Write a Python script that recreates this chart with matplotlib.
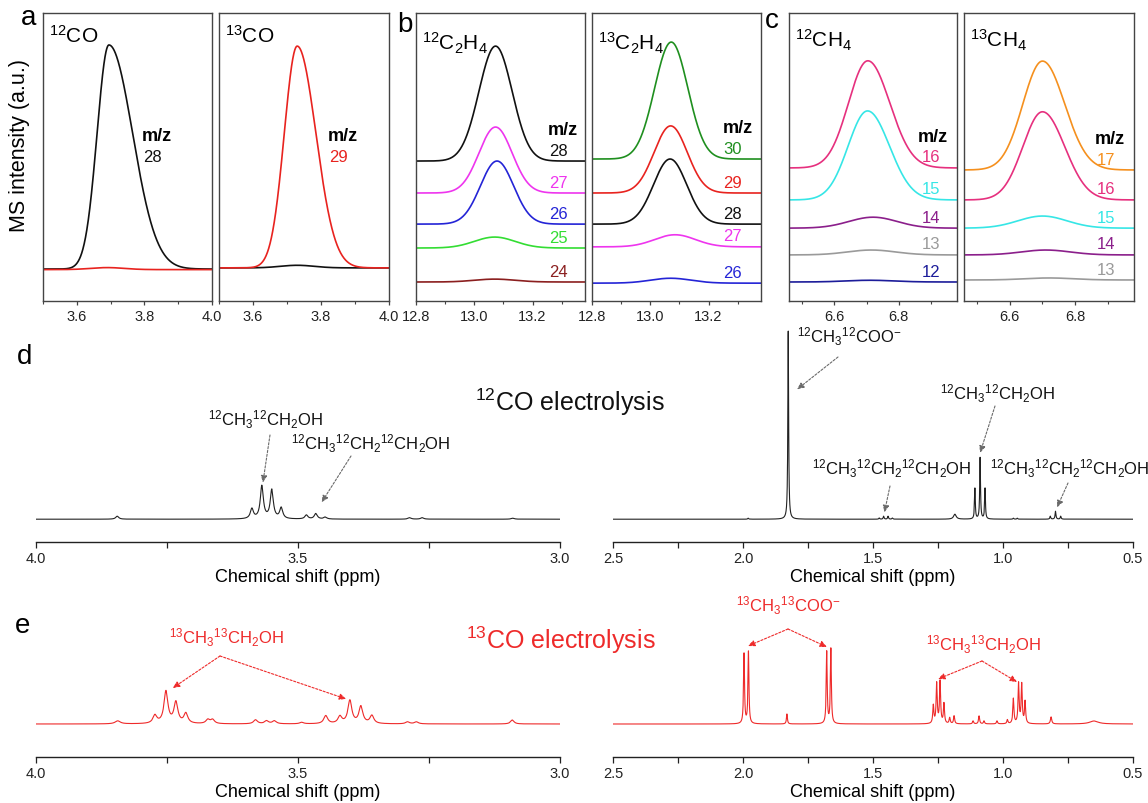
import numpy as np
import matplotlib
matplotlib.use("Agg")
import matplotlib.pyplot as plt
from matplotlib.ticker import FixedLocator, FormatStrFormatter

plt.rcParams["font.family"] = ["Liberation Sans", "DejaVu Sans"]
plt.rcParams["mathtext.fontset"] = "custom"
plt.rcParams["mathtext.rm"] = "Liberation Sans"
plt.rcParams["mathtext.it"] = "Liberation Sans:italic"
plt.rcParams["mathtext.bf"] = "Liberation Sans:bold"
plt.rcParams["mathtext.default"] = "regular"

W, H = 1148, 804

# ---------------- MS traces: retention time (min), normalised intensity ----------------
# a: 12CO / 13CO
CO12_MZ = ["28", "29"]
CO12_COLOR = ["#111111", "#e8231f"]
CO12_CENTER = [3.695, 3.690]
CO12_HEIGHT = [0.778, 0.007]
CO12_BASE = [0.111, 0.109]
CO12_SIGMA = [(0.035, 0.070), (0.05, 0.05)]

CO13_MZ = ["28", "29"]
CO13_COLOR = ["#111111", "#e8231f"]
CO13_CENTER = [3.730, 3.730]
CO13_HEIGHT = [0.009, 0.770]
CO13_BASE = [0.115, 0.115]
CO13_SIGMA = [(0.05, 0.05), (0.038, 0.055)]

# b: 12C2H4 / 13C2H4
ET12_MZ = ["28", "27", "26", "25", "24"]
ET12_COLOR = ["#111111", "#ee35ee", "#2424d6", "#33dd33", "#8b1f1f"]
ET12_CENTER = [13.073, 13.073, 13.078, 13.070, 13.070]
ET12_HEIGHT = [0.399, 0.229, 0.219, 0.038, 0.010]
ET12_BASE = [0.486, 0.375, 0.267, 0.184, 0.066]
ET12_SIGMA = [(0.057, 0.057)] * 3 + [(0.07, 0.07)] * 2

ET13_MZ = ["30", "29", "28", "27", "26"]
ET13_COLOR = ["#1f8f1f", "#e8231f", "#111111", "#ee35ee", "#2424d6"]
ET13_CENTER = [13.072, 13.070, 13.068, 13.085, 13.070]
ET13_HEIGHT = [0.406, 0.233, 0.226, 0.042, 0.017]
ET13_BASE = [0.493, 0.375, 0.267, 0.188, 0.062]
ET13_SIGMA = [(0.057, 0.057)] * 3 + [(0.07, 0.07)] * 2

# c: 12CH4 / 13CH4
ME12_MZ = ["16", "15", "14", "13", "12"]
ME12_COLOR = ["#e6307e", "#36e6e6", "#8b1f8b", "#9a9a9a", "#1c1c9a"]
ME12_CENTER = [6.704, 6.703, 6.720, 6.715, 6.710]
ME12_HEIGHT = [0.372, 0.309, 0.038, 0.017, 0.006]
ME12_BASE = [0.462, 0.351, 0.253, 0.160, 0.066]
ME12_SIGMA = [(0.060, 0.068)] * 2 + [(0.075, 0.075)] * 3

ME13_MZ = ["17", "16", "15", "14", "13"]
ME13_COLOR = ["#f5901e", "#e6307e", "#36e6e6", "#8b1f8b", "#9a9a9a"]
ME13_CENTER = [6.700, 6.700, 6.700, 6.710, 6.720]
ME13_HEIGHT = [0.378, 0.306, 0.042, 0.017, 0.007]
ME13_BASE = [0.455, 0.351, 0.253, 0.160, 0.073]
ME13_SIGMA = [(0.060, 0.068)] * 2 + [(0.075, 0.075)] * 3

# ---------------- 1H NMR peak lists: shift (ppm), height, half width ----------------
D_LEFT_PPM = [3.845, 3.588, 3.569, 3.550, 3.532, 3.484, 3.466, 3.448, 3.287, 3.263, 3.090]
D_LEFT_INT = [3, 10, 33, 29, 11, 4, 5.5, 2, 1.5, 1.5, 1]
D_LEFT_GAM = [0.0035] * 11

D_RIGHT_PPM = [1.980, 1.826, 1.476, 1.459, 1.442, 1.425, 1.185, 1.108, 1.088, 1.069,
               0.960, 0.945, 0.818, 0.798, 0.778]
D_RIGHT_INT = [1, 190, 1.2, 3, 3, 1.2, 5, 31, 62, 31, 1, 1, 3, 8, 3]
D_RIGHT_GAM = [0.002, 0.0018, 0.002, 0.002, 0.002, 0.002, 0.006, 0.0018, 0.0018, 0.0018,
               0.002, 0.002, 0.002, 0.002, 0.002]

E_LEFT_PPM = [3.844, 3.773, 3.752, 3.733, 3.714, 3.672, 3.663, 3.581, 3.560, 3.545,
              3.493, 3.447, 3.420, 3.401, 3.380, 3.359, 3.291, 3.274, 3.091]
E_LEFT_INT = [3, 8, 32, 21, 10, 4, 4, 4, 3, 3, 1.5, 8, 7, 23, 17, 8, 2, 2, 4]
E_LEFT_GAM = [0.006] + [0.0045] * 17 + [0.004]

E_RIGHT_PPM = [1.996, 1.979, 1.831, 1.678, 1.662, 1.268, 1.255, 1.242, 1.227, 1.205,
               1.188, 1.115, 1.092, 1.073, 1.023, 0.983, 0.960, 0.940, 0.928, 0.915,
               0.815, 0.650]
E_RIGHT_INT = [70, 72, 10, 72, 75, 18, 40, 42, 20, 6, 8, 3, 8, 3, 3, 4, 25, 40, 39, 22, 7, 3]
E_RIGHT_GAM = [0.0022] * 5 + [0.0025] * 15 + [0.003, 0.02]


def gauss_trace(x, c, h, s):
    sig = np.where(x < c, s[0], s[1])
    return h * np.exp(-0.5 * ((x - c) / sig) ** 2)


def lorentz_trace(x, centers, heights, widths):
    y = np.zeros_like(x)
    for c, h, g in zip(centers, heights, widths):
        y += h * g * g / ((x - c) ** 2 + g * g)
    return y


def box(x0, y0, x1, y1):
    return [x0 / W, 1 - y1 / H, (x1 - x0) / W, (y1 - y0) / H]


def fp(x, y):
    return (x / W, 1 - y / H)


fig = plt.figure(figsize=(W / 100, H / 100), dpi=100)


def ms_panel(px, xlim, major, minor, fmt, title, title_y, mz, colors, centers,
             heights, bases, sigmas, mz_x, num_x, shown=None, fixed_y=None):
    ax = fig.add_axes(box(px[0], 14, px[1], 302))
    x = np.linspace(xlim[0], xlim[1], 900)
    for c, h, b, s, col in zip(centers, heights, bases, sigmas, colors):
        ax.plot(x, b + gauss_trace(x, c, h, s), color=col, lw=1.2)
    ax.set_xlim(*xlim)
    ax.set_ylim(0, 1)
    ax.set_yticks([])
    ax.xaxis.set_major_locator(FixedLocator(major))
    ax.xaxis.set_minor_locator(FixedLocator(minor))
    ax.xaxis.set_major_formatter(FormatStrFormatter(fmt))
    ax.tick_params(axis="x", which="major", direction="out", length=3, width=0.9,
                   labelsize=10.5, pad=2.5, color="#444444", labelcolor="#222222")
    ax.tick_params(axis="x", which="minor", direction="out", length=2, width=0.8,
                   color="#444444")
    for sp in ax.spines.values():
        sp.set_color("#444444")
        sp.set_linewidth(1.0)
    ax.text(0.035, title_y, title, transform=ax.transAxes, fontsize=15, va="baseline")

    if fixed_y is not None:
        i = shown
        ax.text(mz_x, fixed_y[0], "m/z", transform=ax.transAxes, fontsize=13,
                fontweight="bold", va="center")
        ax.text(num_x, fixed_y[1], mz[i], transform=ax.transAxes, fontsize=12,
                color=colors[i], va="center")
    else:
        for lab, b, col in zip(mz, bases, colors):
            ax.text(num_x, b + 0.038, lab, transform=ax.transAxes, fontsize=12,
                    color=col, va="center")
        ax.text(mz_x, bases[0] + 0.038 + 0.072, "m/z", transform=ax.transAxes,
                fontsize=13, fontweight="bold", va="center")
    return ax


A_TICKS = ([3.6, 3.8, 4.0], [3.5, 3.7, 3.9], "%.1f")
B_TICKS = ([12.8, 13.0, 13.2], [12.9, 13.1, 13.3], "%.1f")
C_TICKS = ([6.6, 6.8], [6.5, 6.7, 6.9], "%.1f")

ms_panel((43, 212), (3.5, 4.0), *A_TICKS, r"$^{12}$CO", 0.899, CO12_MZ, CO12_COLOR,
         CO12_CENTER, CO12_HEIGHT, CO12_BASE, CO12_SIGMA, 0.586, 0.592,
         shown=0, fixed_y=(0.573, 0.50))
ms_panel((219, 389), (3.5, 4.0), *A_TICKS, r"$^{13}$CO", 0.899, CO13_MZ, CO13_COLOR,
         CO13_CENTER, CO13_HEIGHT, CO13_BASE, CO13_SIGMA, 0.641, 0.647,
         shown=1, fixed_y=(0.573, 0.50))
ms_panel((416, 585), (12.8, 13.38), *B_TICKS, r"$^{12}$C$_2$H$_4$", 0.875, ET12_MZ,
         ET12_COLOR, ET12_CENTER, ET12_HEIGHT, ET12_BASE, ET12_SIGMA, 0.781, 0.787)
ms_panel((592, 761), (12.8, 13.38), *B_TICKS, r"$^{13}$C$_2$H$_4$", 0.875, ET13_MZ,
         ET13_COLOR, ET13_CENTER, ET13_HEIGHT, ET13_BASE, ET13_SIGMA, 0.775, 0.775)
ms_panel((789, 957), (6.46, 6.98), *C_TICKS, r"$^{12}$CH$_4$", 0.882, ME12_MZ,
         ME12_COLOR, ME12_CENTER, ME12_HEIGHT, ME12_BASE, ME12_SIGMA, 0.768, 0.79)
ms_panel((964, 1134), (6.46, 6.98), *C_TICKS, r"$^{13}$CH$_4$", 0.882, ME13_MZ,
         ME13_COLOR, ME13_CENTER, ME13_HEIGHT, ME13_BASE, ME13_SIGMA, 0.771, 0.782)

fig.text(*fp(20, 145), "MS intensity (a.u.)", rotation=90, ha="center", va="center",
         fontsize=15.5)


def nmr_panel(x0, x1, y_top, y_spine, xlim, ylim, major, minor, ppm, ints, gams, color):
    ax = fig.add_axes(box(x0, y_top, x1, y_spine))
    x = np.linspace(xlim[1], xlim[0], 12000)
    ax.plot(x, lorentz_trace(x, ppm, ints, gams), color=color, lw=0.8)
    ax.set_xlim(*xlim)
    ax.set_ylim(*ylim)
    ax.set_yticks([])
    ax.patch.set_visible(False)
    for s in ["top", "left", "right"]:
        ax.spines[s].set_visible(False)
    ax.spines["bottom"].set_color("#222222")
    ax.spines["bottom"].set_linewidth(1.0)
    ax.xaxis.set_major_locator(FixedLocator(major))
    ax.xaxis.set_minor_locator(FixedLocator(minor))
    ax.xaxis.set_major_formatter(FormatStrFormatter("%.1f"))
    ax.tick_params(axis="x", which="both", direction="out", length=4, width=0.9,
                   labelsize=10.5, pad=2.5, color="#222222", labelcolor="#222222")
    ax.set_xlabel("Chemical shift (ppm)", fontsize=13, labelpad=2)
    return ax


LEFT_TICKS = ([4.0, 3.5, 3.0], [3.75, 3.25])
RIGHT_TICKS = ([2.5, 2.0, 1.5, 1.0, 0.5], [2.25, 1.75, 1.25, 0.75])
GRAY = "#6a6a6a"
RED = "#ee2a2a"

d_left = nmr_panel(36, 560, 320, 543, (4.0, 3.0), (-23, 202), *LEFT_TICKS,
                   D_LEFT_PPM, D_LEFT_INT, D_LEFT_GAM, "#222222")
d_right = nmr_panel(613, 1133, 320, 543, (2.5, 0.5), (-23, 202), *RIGHT_TICKS,
                    D_RIGHT_PPM, D_RIGHT_INT, D_RIGHT_GAM, "#222222")
e_left = nmr_panel(36, 560, 600, 758, (4.0, 3.0), (-33, 125), *LEFT_TICKS,
                   E_LEFT_PPM, E_LEFT_INT, E_LEFT_GAM, RED)
e_right = nmr_panel(613, 1133, 600, 758, (2.5, 0.5), (-33, 125), *RIGHT_TICKS,
                    E_RIGHT_PPM, E_RIGHT_INT, E_RIGHT_GAM, RED)


def arrow(ax, head, tail, color):
    ax.annotate("", xy=head, xycoords="data", xytext=fp(*tail),
                textcoords="figure fraction",
                arrowprops=dict(arrowstyle="-|>,head_length=0.4,head_width=0.18",
                                color=color, lw=0.8, ls=(0, (2, 1.5)),
                                shrinkA=0, shrinkB=0))


def label(x, y, s, color="#111111", size=12):
    fig.text(*fp(x, y), s, ha="center", va="center", fontsize=size, color=color)


ETOH12 = r"$^{12}$CH$_3$$^{12}$CH$_2$OH"
PROP12 = r"$^{12}$CH$_3$$^{12}$CH$_2$$^{12}$CH$_2$OH"
AC12 = r"$^{12}$CH$_3$$^{12}$COO$^{-}$"
ETOH13 = r"$^{13}$CH$_3$$^{13}$CH$_2$OH"
AC13 = r"$^{13}$CH$_3$$^{13}$COO$^{-}$"

# d annotations
label(265, 420, ETOH12)
arrow(d_left, (3.567, 37), (270, 436), GRAY)
label(371, 444, PROP12)
arrow(d_left, (3.455, 17), (351, 457), GRAY)
label(570, 402, r"$^{12}$CO electrolysis", size=18)

label(849, 337, AC12)
arrow(d_right, (1.792, 131), (838, 358), GRAY)
label(997, 394, ETOH12)
arrow(d_right, (1.088, 67), (995, 407), GRAY)
label(892, 469, PROP12)
arrow(d_right, (1.456, 7), (890, 487), GRAY)
label(1070, 469, PROP12)
arrow(d_right, (0.792, 12), (1068, 484), GRAY)

# e annotations
label(226, 638, ETOH13, color=RED)
arrow(e_left, (3.739, 36), (220, 657), RED)
arrow(e_left, (3.408, 25), (220, 657), RED)
label(561, 640, r"$^{13}$CO electrolysis", color=RED, size=18)

label(788, 606, AC13, color=RED)
arrow(e_right, (1.981, 78), (788, 630), RED)
arrow(e_right, (1.677, 77), (788, 630), RED)
label(983, 645, ETOH13, color=RED)
arrow(e_right, (1.250, 45), (982, 662), RED)
arrow(e_right, (0.946, 42), (982, 662), RED)

# panel letters
for ch, x, y in [("a", 21, 25), ("b", 397, 32), ("c", 765, 28), ("d", 17, 364), ("e", 15, 633)]:
    fig.text(*fp(x, y), ch, fontsize=20, va="baseline", ha="left")

fig.savefig("out.png", dpi=100)
